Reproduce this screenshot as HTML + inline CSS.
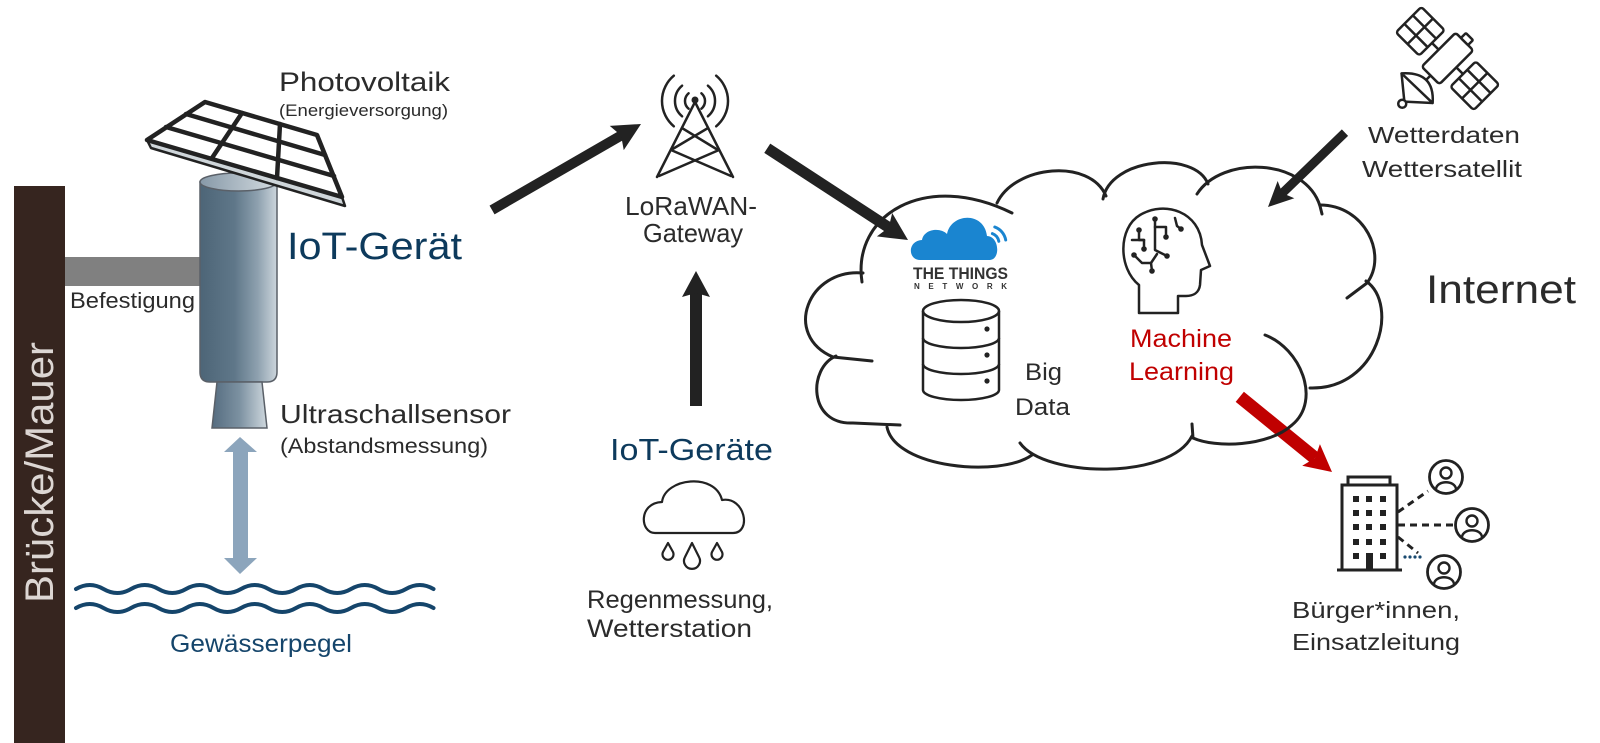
<!DOCTYPE html>
<html>
<head>
<meta charset="utf-8">
<style>
  html,body{margin:0;padding:0;background:#fff;}
  svg{display:block;}
  text{font-family:"Liberation Sans","DejaVu Sans",sans-serif;fill:#2b2b2b;}
</style>
</head>
<body>
<svg width="1600" height="743" viewBox="0 0 1600 743" xmlns="http://www.w3.org/2000/svg">
  <defs>
    <linearGradient id="cyl" x1="0" y1="0" x2="1" y2="0">
      <stop offset="0" stop-color="#4d6577"/>
      <stop offset="0.45" stop-color="#5f7789"/>
      <stop offset="0.75" stop-color="#8ea1af"/>
      <stop offset="1" stop-color="#ccd5dc"/>
    </linearGradient>
    <linearGradient id="cyltop" x1="0" y1="0" x2="1" y2="0">
      <stop offset="0" stop-color="#8799a8"/>
      <stop offset="1" stop-color="#d3dbe0"/>
    </linearGradient>
    <linearGradient id="cone" x1="0" y1="0" x2="1" y2="0">
      <stop offset="0" stop-color="#556c80"/>
      <stop offset="0.5" stop-color="#7c91a1"/>
      <stop offset="1" stop-color="#cfd8de"/>
    </linearGradient>
  </defs>

  <rect width="1600" height="743" fill="#fff"/>

  <!-- Wall -->
  <rect x="14" y="186" width="51" height="557" fill="#36251f"/>
  <text transform="translate(53,603) rotate(-90)" font-size="40" textLength="261" lengthAdjust="spacingAndGlyphs" style="fill:#dcd6d3">Brücke/Mauer</text>

  <!-- Befestigung bar -->
  <rect x="65" y="257" width="137" height="29" fill="#808080"/>
  <text x="70" y="308" font-size="22" textLength="125" lengthAdjust="spacingAndGlyphs">Befestigung</text>

  <!-- Cylinder device -->
  <path d="M200,182 L277,182 L277,372 Q277,382 267,382 L210,382 Q200,382 200,372 Z" fill="url(#cyl)" stroke="#5a6068" stroke-width="1.5"/>
  <ellipse cx="238.5" cy="182" rx="38.5" ry="9" fill="url(#cyltop)" stroke="#5a6068" stroke-width="1.5"/>
  <polygon points="217,382 262,382 267,428 212,428" fill="url(#cone)" stroke="#5a6068" stroke-width="1.5"/>

  <!-- Solar panel -->
  <polygon points="147,140 342,197 345,206 151,148" fill="#cfd6da" stroke="#222" stroke-width="2.5" stroke-linejoin="round"/>
  <polygon points="205,102 317,135 342,197 147,140" fill="#fff" stroke="#222" stroke-width="4.5" stroke-linejoin="round"/>
  <g stroke="#222" stroke-width="4.5" stroke-linecap="round">
    <line x1="242" y1="113" x2="212" y2="158"/>
    <line x1="280" y1="124" x2="277" y2="178"/>
    <line x1="186" y1="114" x2="325" y2="155"/>
    <line x1="166" y1="127" x2="334" y2="176"/>
  </g>

  <text x="279" y="91" font-size="27" textLength="171" lengthAdjust="spacingAndGlyphs">Photovoltaik</text>
  <text x="279" y="116" font-size="17" textLength="169" lengthAdjust="spacingAndGlyphs">(Energieversorgung)</text>
  <text x="287" y="259" font-size="38" textLength="175" lengthAdjust="spacingAndGlyphs" style="fill:#0d3a5c">IoT-Gerät</text>
  <text x="280" y="423" font-size="26" textLength="231" lengthAdjust="spacingAndGlyphs">Ultraschallsensor</text>
  <text x="280" y="453" font-size="21" textLength="208" lengthAdjust="spacingAndGlyphs">(Abstandsmessung)</text>

  <!-- Double arrow -->
  <polygon points="240,437 257,452 248,452 248,558 257,558 240,574 224,558 233,558 233,452 224,452" fill="#8ca5bc"/>

  <!-- Waves -->
  <g fill="none" stroke="#15456b" stroke-width="4" stroke-linecap="round">
    <path d="M76,589 q13.75,-8 27.5,0 t27.5,0 t27.5,0 t27.5,0 t27.5,0 t27.5,0 t27.5,0 t27.5,0 t27.5,0 t27.5,0 t27.5,0 t27.5,0 t27.5,0"/>
    <path d="M76,608 q13.75,-8 27.5,0 t27.5,0 t27.5,0 t27.5,0 t27.5,0 t27.5,0 t27.5,0 t27.5,0 t27.5,0 t27.5,0 t27.5,0 t27.5,0 t27.5,0"/>
  </g>
  <text x="170" y="652" font-size="25" textLength="182" lengthAdjust="spacingAndGlyphs" style="fill:#15456b">Gewässerpegel</text>

  <!-- Black arrows -->
  <g fill="#222">
    <g transform="translate(641,124) rotate(-30)">
      <rect x="-172" y="-5" width="150" height="10"/>
      <polygon points="0,0 -28,-14 -23,0 -28,14"/>
    </g>
    <g transform="translate(908,240) rotate(33.1)">
      <rect x="-168" y="-5.5" width="146" height="11"/>
      <polygon points="0,0 -28,-14 -23,0 -28,14"/>
    </g>
    <g transform="translate(696,271) rotate(-90)">
      <rect x="-135" y="-6" width="113" height="12"/>
      <polygon points="0,0 -26,-14 -22,0 -26,14"/>
    </g>
    <g transform="translate(1268,207) rotate(136)">
      <rect x="-107" y="-4.5" width="88" height="9"/>
      <polygon points="0,0 -25,-12 -20,0 -25,12"/>
    </g>
  </g>
  <g transform="translate(1332,472) rotate(39.2)" fill="#c00000">
    <rect x="-119" y="-6.5" width="97" height="13"/>
    <polygon points="0,0 -27,-14 -22,0 -27,14"/>
  </g>

  <!-- Gateway tower -->
  <g fill="none" stroke="#222" stroke-width="2.5" stroke-linecap="round">
    <line x1="695" y1="102" x2="657" y2="177"/>
    <line x1="695" y1="102" x2="733" y2="177"/>
    <line x1="682" y1="128" x2="718" y2="150"/>
    <line x1="708" y1="128" x2="671" y2="150"/>
    <line x1="671" y1="150" x2="731" y2="176"/>
    <line x1="719" y1="150" x2="659" y2="176"/>
    <path d="M688.6,93.3 A10,10 0 0 0 688.6,108.7"/>
    <path d="M682.1,85.7 A20,20 0 0 0 682.1,116.3"/>
    <path d="M673.8,75.7 A33,33 0 0 0 673.8,126.3"/>
    <path d="M701.4,93.3 A10,10 0 0 1 701.4,108.7"/>
    <path d="M707.9,85.7 A20,20 0 0 1 707.9,116.3"/>
    <path d="M716.2,75.7 A33,33 0 0 1 716.2,126.3"/>
  </g>
  <circle cx="695" cy="100" r="3.5" fill="#222"/>
  <text x="625" y="215" font-size="26" textLength="132" lengthAdjust="spacingAndGlyphs">LoRaWAN-</text>
  <text x="643" y="242" font-size="26" textLength="100" lengthAdjust="spacingAndGlyphs">Gateway</text>

  <!-- IoT-Geräte / rain cloud -->
  <text x="610" y="460" font-size="31" textLength="163" lengthAdjust="spacingAndGlyphs" style="fill:#0d3a5c">IoT-Geräte</text>
  <g fill="none" stroke="#222" stroke-width="2.2" stroke-linejoin="round">
    <path d="M655,533 C640,533 638,503 662,502 C665,478 715,472 722,500 C745,496 752,533 733,533 Z"/>
    <path d="M668,543 L663,552 A5.5,5.5 0 1 0 673,552 Z"/>
    <path d="M692,543 L685,557 A8,8 0 1 0 699,557 Z"/>
    <path d="M717,543 L712,552 A5.5,5.5 0 1 0 722,552 Z"/>
  </g>
  <text x="587" y="608" font-size="25" textLength="186" lengthAdjust="spacingAndGlyphs">Regenmessung,</text>
  <text x="587" y="637" font-size="25" textLength="165" lengthAdjust="spacingAndGlyphs">Wetterstation</text>

  <!-- Big cloud -->
  <g fill="none" stroke="#222" stroke-width="3" stroke-linecap="round">
    <path d="M862,282 C852,215 925,170 1012,213"/>
    <path d="M997,203 C1015,165 1090,158 1106,196"/>
    <path d="M1103,199 C1110,158 1195,150 1208,184"/>
    <path d="M1197,194 C1222,155 1305,158 1320,206 L1322,214"/>
    <path d="M1320,205 C1365,205 1388,255 1367,283 L1347,298"/>
    <path d="M1366,281 C1400,305 1378,390 1310,388"/>
    <path d="M1265,335 C1300,348 1322,400 1292,425 C1268,447 1215,448 1193,438 L1192,424"/>
    <path d="M1192,436 C1170,480 1045,478 1020,443"/>
    <path d="M887,427 C895,468 1000,478 1032,455"/>
    <path d="M836,356 C808,368 808,425 853,423 L900,425"/>
    <path d="M863,273 C808,268 782,335 833,357 L872,361"/>
  </g>

  <!-- TTN logo -->
  <path d="M920,260 C908,260 907,241 922,240 C924,229 940,227 947,234 C951,213 984,211 987,236 C999,236 1001,259 990,260 Z" fill="#1a85d0"/>
  <g fill="none" stroke="#1a85d0" stroke-width="3" stroke-linecap="round">
    <path d="M992.4,233.6 A10,10 0 0 1 998.8,241.3"/>
    <path d="M994.8,227 A17,17 0 0 1 1005.7,240"/>
  </g>
  <text x="913" y="279" font-size="17" font-weight="bold" textLength="95" lengthAdjust="spacingAndGlyphs" style="fill:#333">THE THINGS</text>
  <text x="914" y="289" font-size="8" font-weight="bold" textLength="93" lengthAdjust="spacing" style="fill:#333">NETWORK</text>

  <!-- Database -->
  <g fill="none" stroke="#222" stroke-width="2.5">
    <ellipse cx="961" cy="311" rx="38" ry="11"/>
    <line x1="923" y1="311" x2="923" y2="390"/>
    <line x1="999" y1="311" x2="999" y2="390"/>
    <path d="M923,338 A38,10 0 0 0 999,338"/>
    <path d="M923,364 A38,10 0 0 0 999,364"/>
    <path d="M923,390 A38,10 0 0 0 999,390"/>
  </g>
  <g fill="#222">
    <circle cx="987" cy="329" r="2.6"/>
    <circle cx="987" cy="355" r="2.6"/>
    <circle cx="987" cy="381" r="2.6"/>
  </g>
  <text x="1025" y="380" font-size="24" textLength="37" lengthAdjust="spacingAndGlyphs">Big</text>
  <text x="1015" y="415" font-size="24" textLength="55" lengthAdjust="spacingAndGlyphs">Data</text>

  <!-- Head / ML icon -->
  <g fill="none" stroke="#222" stroke-width="2.5" stroke-linejoin="round" stroke-linecap="round">
    <path d="M1139,313 L1139,285 C1118,268 1118,228 1140,215 C1165,200 1200,212 1202,245 L1210,266 L1201,270 L1200,285 C1199,293 1193,296 1186,296 L1178,296 L1178,313 Z"/>
    <polyline points="1155,219 1155,250 1167,256"/>
    <polyline points="1155,227 1166,227 1166,237"/>
    <polyline points="1139,230 1139,240 1144,240 1144,249"/>
    <line x1="1132" y1="240" x2="1144" y2="240"/>
    <polyline points="1134,255 1142,263 1151,263 1157,254"/>
    <line x1="1151" y1="263" x2="1152" y2="271"/>
    <polyline points="1175,218 1177,226 1181,229"/>
  </g>
  <g fill="#222">
    <circle cx="1155" cy="219" r="2.8"/>
    <circle cx="1167" cy="256" r="2.8"/>
    <circle cx="1166" cy="237" r="2.8"/>
    <circle cx="1139" cy="230" r="2.8"/>
    <circle cx="1144" cy="249" r="2.8"/>
    <circle cx="1134" cy="255" r="2.8"/>
    <circle cx="1152" cy="271" r="2.8"/>
    <circle cx="1181" cy="229" r="2.8"/>
  </g>
  <text x="1130" y="347" font-size="25" textLength="102" lengthAdjust="spacingAndGlyphs" style="fill:#c00000">Machine</text>
  <text x="1129" y="380" font-size="25" textLength="105" lengthAdjust="spacingAndGlyphs" style="fill:#c00000">Learning</text>

  <!-- Internet -->
  <text x="1426" y="303" font-size="40" textLength="150" lengthAdjust="spacingAndGlyphs">Internet</text>

  <!-- Satellite -->
  <g transform="translate(1447.5,58.5) rotate(45)" fill="#fff" stroke="#222" stroke-width="2.5" stroke-linejoin="round">
    <rect x="-12.5" y="-24" width="25" height="48" rx="3"/>
    <rect x="-5" y="-31" width="10" height="7" rx="1"/>
    <line x1="-22" y1="0" x2="-12.5" y2="0"/>
    <line x1="12.5" y1="0" x2="22" y2="0"/>
    <rect x="-55" y="-18" width="33" height="36" rx="3"/>
    <line x1="-38.5" y1="-18" x2="-38.5" y2="18"/>
    <line x1="-55" y1="-6" x2="-22" y2="-6"/>
    <line x1="-55" y1="6" x2="-22" y2="6"/>
    <rect x="22" y="-18" width="33" height="36" rx="3"/>
    <line x1="38.5" y1="-18" x2="38.5" y2="18"/>
    <line x1="22" y1="-6" x2="55" y2="-6"/>
    <line x1="22" y1="6" x2="55" y2="6"/>
    <line x1="0" y1="24" x2="0" y2="30"/>
    <path d="M-22,43 Q0,18 21,42 Z"/>
    <line x1="-22" y1="43" x2="0" y2="61"/>
    <line x1="21" y1="42" x2="0" y2="61"/>
    <circle cx="0" cy="64" r="4"/>
  </g>
  <text x="1368" y="143" font-size="23" textLength="152" lengthAdjust="spacingAndGlyphs">Wetterdaten</text>
  <text x="1362" y="177" font-size="23" textLength="160" lengthAdjust="spacingAndGlyphs">Wettersatellit</text>

  <!-- Building -->
  <g fill="none" stroke="#222" stroke-width="3">
    <rect x="1348" y="477" width="42" height="8"/>
    <rect x="1342" y="485" width="55" height="85"/>
    <line x1="1337" y1="570" x2="1402" y2="570"/>
  </g>
  <g fill="#222">
    <rect x="1353" y="496" width="6" height="6"/><rect x="1366" y="496" width="6" height="6"/><rect x="1380" y="496" width="6" height="6"/>
    <rect x="1353" y="510" width="6" height="6"/><rect x="1366" y="510" width="6" height="6"/><rect x="1380" y="510" width="6" height="6"/>
    <rect x="1353" y="524" width="6" height="6"/><rect x="1366" y="524" width="6" height="6"/><rect x="1380" y="524" width="6" height="6"/>
    <rect x="1353" y="539" width="6" height="6"/><rect x="1366" y="539" width="6" height="6"/><rect x="1380" y="539" width="6" height="6"/>
    <rect x="1353" y="553" width="6" height="6"/><rect x="1366" y="553" width="7" height="17"/><rect x="1380" y="553" width="6" height="6"/>
  </g>
  <g stroke="#222" stroke-width="3" stroke-dasharray="7 5" fill="none">
    <line x1="1398" y1="512" x2="1428" y2="491"/>
    <line x1="1398" y1="525" x2="1455" y2="525"/>
    <line x1="1398" y1="537" x2="1418" y2="553"/>
  </g>
  <g fill="#1a4a70">
    <circle cx="1405" cy="557" r="1.6"/><circle cx="1410" cy="557" r="1.6"/><circle cx="1415" cy="557" r="1.6"/><circle cx="1420" cy="557" r="1.6"/>
  </g>
  <g fill="#fff" stroke="#222" stroke-width="2.8">
    <circle cx="1446" cy="477" r="16.5"/>
    <circle cx="1472" cy="525" r="16.5"/>
    <circle cx="1444" cy="572" r="16.5"/>
  </g>
  <g fill="none" stroke="#222" stroke-width="2.4">
    <circle cx="1446" cy="473" r="5.5"/>
    <path d="M1436,489 C1437,480 1455,480 1456,489"/>
    <circle cx="1472" cy="521" r="5.5"/>
    <path d="M1462,537 C1463,528 1481,528 1482,537"/>
    <circle cx="1444" cy="568" r="5.5"/>
    <path d="M1434,584 C1435,575 1453,575 1454,584"/>
  </g>
  <text x="1292" y="618" font-size="23" textLength="168" lengthAdjust="spacingAndGlyphs">Bürger*innen,</text>
  <text x="1292" y="650" font-size="23" textLength="168" lengthAdjust="spacingAndGlyphs">Einsatzleitung</text>
</svg>
</body>
</html>
